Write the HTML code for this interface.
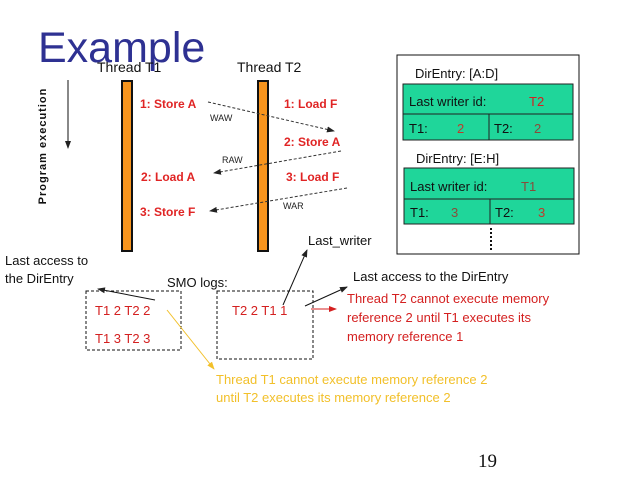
<!DOCTYPE html>
<html><head><meta charset="utf-8"><style>
html,body{margin:0;padding:0;background:#fff;}
svg{display:block;font-family:"Liberation Sans",Arial,sans-serif;}
</style></head><body>
<svg width="638" height="479" viewBox="0 0 638 479" xmlns="http://www.w3.org/2000/svg">
<defs>
<marker id="a" markerWidth="8" markerHeight="6" refX="7" refY="3" orient="auto" markerUnits="userSpaceOnUse"><path d="M0,0 L8,3 L0,6z" fill="#222"/></marker>
<marker id="r" markerWidth="8" markerHeight="6" refX="7" refY="3" orient="auto" markerUnits="userSpaceOnUse"><path d="M0,0 L8,3 L0,6z" fill="#d42020"/></marker>
<marker id="y" markerWidth="8" markerHeight="6" refX="7" refY="3" orient="auto" markerUnits="userSpaceOnUse"><path d="M0,0 L8,3 L0,6z" fill="#f2c02a"/></marker>
</defs>
<text x="38" y="62" font-size="43" fill="#2e3192">Example</text>
<text x="97" y="72" font-size="14" fill="#111">Thread T1</text>
<text x="237" y="72" font-size="14" fill="#111">Thread T2</text>
<text transform="translate(46,146) rotate(-90)" text-anchor="middle" font-size="11" font-weight="bold" letter-spacing="1" fill="#111">Program execution</text>
<line x1="68" y1="80" x2="68" y2="148" stroke="#111" stroke-width="1" marker-end="url(#a)"/>
<rect x="122" y="81" width="10" height="170" fill="#f7941d" stroke="#111" stroke-width="2"/>
<rect x="258" y="81" width="10" height="170" fill="#f7941d" stroke="#111" stroke-width="2"/>
<g font-size="12" font-weight="bold" fill="#e02424">
<text x="140" y="108">1: Store A</text>
<text x="284" y="108">1: Load F</text>
<text x="284" y="146">2: Store A</text>
<text x="141" y="181">2: Load A</text>
<text x="286" y="181">3: Load F</text>
<text x="140" y="216">3: Store F</text>
</g>
<g stroke="#333" stroke-width="1" stroke-dasharray="3,2" fill="none">
<line x1="208" y1="102" x2="334" y2="131" marker-end="url(#a)"/>
<line x1="341" y1="151" x2="214" y2="173" marker-end="url(#a)"/>
<line x1="347" y1="188" x2="210" y2="211" marker-end="url(#a)"/>
</g>
<g font-size="9" fill="#222">
<text x="210" y="121">WAW</text>
<text x="222" y="163">RAW</text>
<text x="283" y="209">WAR</text>
</g>
<rect x="397" y="55" width="182" height="199" fill="#fff" stroke="#111" stroke-width="1"/>
<text x="415" y="78" font-size="13" fill="#111">DirEntry: [A:D]</text>
<rect x="403" y="84" width="170" height="56" fill="#1fd69a" stroke="#222"/>
<line x1="403" y1="114" x2="573" y2="114" stroke="#222"/>
<line x1="489" y1="114" x2="489" y2="140" stroke="#222"/>
<text x="409" y="106" font-size="13" fill="#111">Last writer id:</text>
<text x="529" y="106" font-size="13" fill="#d42020">T2</text>
<text x="409" y="133" font-size="13" fill="#111">T1:</text><text x="457" y="133" font-size="13" fill="#c0392b">2</text>
<text x="494" y="133" font-size="13" fill="#111">T2:</text><text x="534" y="133" font-size="13" fill="#8a4b3a">2</text>
<text x="416" y="163" font-size="13" fill="#111">DirEntry: [E:H]</text>
<rect x="404" y="168" width="170" height="56" fill="#1fd69a" stroke="#222"/>
<line x1="404" y1="199" x2="574" y2="199" stroke="#222"/>
<line x1="490" y1="199" x2="490" y2="224" stroke="#222"/>
<text x="410" y="191" font-size="13" fill="#111">Last writer id:</text>
<text x="521" y="191" font-size="13" fill="#8a4b3a">T1</text>
<text x="410" y="217" font-size="13" fill="#111">T1:</text><text x="451" y="217" font-size="13" fill="#8a4b3a">3</text>
<text x="495" y="217" font-size="13" fill="#111">T2:</text><text x="538" y="217" font-size="13" fill="#c0392b">3</text>
<line x1="491" y1="228" x2="491" y2="251" stroke="#111" stroke-width="2" stroke-dasharray="2,2"/>
<text x="308" y="245" font-size="13" fill="#111">Last_writer</text>
<text x="5" y="265" font-size="13" fill="#111">Last access to</text>
<text x="5" y="283" font-size="13" fill="#111">the DirEntry</text>
<text x="167" y="287" font-size="13" fill="#111">SMO logs:</text>
<text x="353" y="281" font-size="13" fill="#111">Last access to the DirEntry</text>
<rect x="86" y="291" width="95" height="59" fill="none" stroke="#111" stroke-dasharray="3,2"/>
<rect x="217" y="291" width="96" height="68" fill="none" stroke="#111" stroke-dasharray="3,2"/>
<g font-size="13" fill="#d42020">
<text x="95" y="315">T1 2 T2 2</text>
<text x="95" y="343">T1 3 T2 3</text>
<text x="232" y="315">T2 2 T1 1</text>
<text x="347" y="303">Thread T2 cannot execute memory</text>
<text x="347" y="322">reference 2 until T1 executes its</text>
<text x="347" y="341">memory reference 1</text>
</g>
<line x1="155" y1="300" x2="98" y2="289" stroke="#111" marker-end="url(#a)"/>
<line x1="283" y1="305" x2="307" y2="250" stroke="#111" marker-end="url(#a)"/>
<line x1="305" y1="306" x2="347" y2="287" stroke="#111" marker-end="url(#a)"/>
<line x1="311" y1="309" x2="336" y2="309" stroke="#d42020" marker-end="url(#r)"/>
<line x1="167" y1="310" x2="214" y2="369" stroke="#f2c02a" marker-end="url(#y)"/>
<g font-size="13" fill="#f2c02a">
<text x="216" y="384">Thread T1 cannot execute memory reference 2</text>
<text x="216" y="402">until T2 executes its memory reference 2</text>
</g>
<text x="478" y="467" font-size="19" font-family="Liberation Serif,serif" fill="#111">19</text>
</svg>
</body></html>
